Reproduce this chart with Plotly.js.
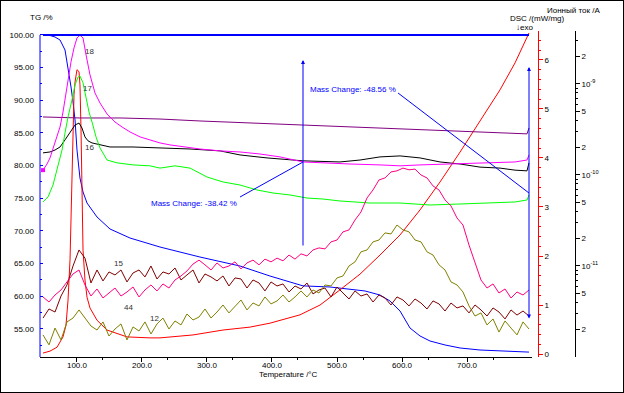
<!DOCTYPE html>
<html>
<head>
<meta charset="utf-8">
<script src="https://cdn.plot.ly/plotly-3.0.1.min.js"></script>
<style>
html,body{margin:0;padding:0;background:#fff;}
#chart{position:absolute;left:0;top:0;width:624px;height:393px;}
#frame{position:absolute;left:0;top:0;width:624px;height:393px;box-sizing:border-box;border:1px solid #000;pointer-events:none;}
</style>
</head>
<body>
<div id="chart"></div>
<div id="frame"></div>
<script>
// ---------- TG (mass, %) ----------
const T_TG = [47.7, 58.5, 66.2, 73.9, 81.6, 86.2, 90.8, 93.9, 97.0, 100.0, 104.6, 109.3, 115.4, 130.8, 150.8, 181.6, 227.7, 289.2, 350.8, 396.9, 447.7, 489.2, 520.0, 543.1, 566.2, 581.6, 597.0, 612.3, 627.7, 643.1, 666.2, 689.3, 720.0, 750.8, 795.4];
const TG = [100.0, 99.92, 99.69, 99.23, 97.70, 95.10, 92.04, 89.74, 86.98, 82.39, 78.10, 75.96, 74.27, 72.13, 70.29, 68.91, 67.53, 66.00, 64.62, 63.09, 61.58, 61.41, 61.10, 60.80, 60.18, 59.26, 57.73, 55.13, 53.91, 53.14, 52.53, 52.07, 51.76, 51.61, 51.44];

// ---------- DSC (mW/mg) ----------
const T_DSC = [47.7, 58.5, 69.3, 78.5, 83.1, 86.2, 89.3, 90.8, 92.3, 93.9, 95.4, 97.0, 100.0, 103.1, 104.6, 106.2, 107.7, 109.3, 112.3, 115.4, 120.0, 130.8, 146.2, 176.9, 212.3, 227.7, 278.5, 324.6, 366.2, 396.9, 443.1, 473.9, 504.6, 535.4, 566.2, 597.0, 627.7, 658.5, 689.3, 720.0, 750.8, 773.9, 795.4];
const DSC = [0.02, 0.06, 0.14, 0.35, 0.59, 1.10, 1.92, 2.73, 3.96, 4.78, 5.29, 5.55, 5.80, 5.76, 5.49, 4.57, 3.14, 2.12, 1.51, 1.16, 0.94, 0.69, 0.49, 0.35, 0.33, 0.33, 0.39, 0.49, 0.55, 0.63, 0.80, 1.00, 1.31, 1.63, 2.02, 2.43, 2.94, 3.51, 4.12, 4.76, 5.39, 5.94, 6.55];

// ---------- MS ion currents (A) ----------
const T18 = [47.7, 53.9, 58.5, 66.2, 73.9, 78.5, 83.1, 86.2, 90.8, 95.4, 100.0, 104.6, 109.3, 114.0, 120.0, 127.7, 135.4, 146.2, 158.5, 169.3, 181.6, 197.0, 212.3, 227.7, 243.1, 266.2, 289.2, 320.0, 350.8, 381.6, 412.3, 447.7, 473.9, 520.0, 566.2, 597.0, 627.7, 673.9, 720.0, 750.8, 773.9, 792.3, 795.4];
const I18 = [1.13e-10, 1.32e-10, 1.54e-10, 2.25e-10, 3.37e-10, 4.92e-10, 8.17e-10, 1.16e-9, 1.75e-9, 2.49e-9, 3.20e-9, 3.45e-9, 3.20e-9, 2.08e-9, 1.26e-9, 7.96e-10, 6.18e-10, 4.68e-10, 3.82e-10, 3.37e-10, 2.97e-10, 2.62e-10, 2.43e-10, 2.25e-10, 2.14e-10, 2.03e-10, 1.93e-10, 1.84e-10, 1.79e-10, 1.70e-10, 1.58e-10, 1.39e-10, 1.36e-10, 1.32e-10, 1.29e-10, 1.26e-10, 1.29e-10, 1.32e-10, 1.36e-10, 1.39e-10, 1.39e-10, 1.46e-10, 1.66e-10];

const T17 = [47.7, 55.4, 63.1, 70.8, 77.0, 81.6, 86.2, 92.3, 97.0, 101.6, 104.6, 109.3, 114.0, 118.5, 123.1, 129.3, 135.4, 146.2, 161.6, 186.2, 212.3, 227.7, 250.8, 273.9, 300.0, 324.6, 350.8, 377.0, 401.6, 427.7, 453.9, 478.5, 504.6, 550.8, 597.0, 643.1, 689.3, 735.4, 773.9, 792.3, 795.4];
const I17 = [5.05e-11, 5.73e-11, 7.76e-11, 1.22e-10, 1.88e-10, 2.90e-10, 4.34e-10, 6.67e-10, 9.75e-10, 1.19e-9, 1.22e-9, 1.03e-9, 7.20e-10, 4.92e-10, 3.82e-10, 2.62e-10, 1.98e-10, 1.46e-10, 1.36e-10, 1.29e-10, 1.26e-10, 1.19e-10, 1.26e-10, 1.19e-10, 9.50e-11, 8.38e-11, 7.76e-11, 6.84e-11, 6.34e-11, 6.03e-11, 5.58e-11, 5.44e-11, 5.18e-11, 4.92e-11, 4.92e-11, 4.68e-11, 4.80e-11, 4.92e-11, 5.05e-11, 5.31e-11, 6.03e-11];

const T16 = [47.7, 58.5, 66.2, 73.9, 81.6, 89.3, 97.0, 103.1, 107.7, 112.3, 117.0, 123.1, 135.4, 150.8, 186.2, 227.7, 273.9, 320.0, 350.8, 392.3, 447.7, 504.6, 535.4, 566.2, 597.0, 627.7, 658.5, 689.3, 720.0, 750.8, 773.9, 792.3, 795.4];
const I16 = [1.75e-10, 1.79e-10, 1.88e-10, 2.03e-10, 2.43e-10, 2.90e-10, 3.54e-10, 3.72e-10, 3.28e-10, 2.62e-10, 2.37e-10, 2.25e-10, 2.14e-10, 2.03e-10, 2.03e-10, 1.98e-10, 1.93e-10, 1.84e-10, 1.66e-10, 1.54e-10, 1.43e-10, 1.39e-10, 1.46e-10, 1.58e-10, 1.62e-10, 1.54e-10, 1.39e-10, 1.32e-10, 1.22e-10, 1.19e-10, 1.13e-10, 1.11e-10, 1.36e-10];

const T_P = [47.7, 104.6, 166.2, 227.7, 289.2, 366.2, 443.1, 520.0, 597.0, 673.9, 750.8, 792.3, 795.4];
const I_P = [4.34e-10, 4.23e-10, 4.23e-10, 4.12e-10, 3.92e-10, 3.72e-10, 3.54e-10, 3.37e-10, 3.20e-10, 3.05e-10, 2.90e-10, 2.83e-10, 3.28e-10];

const TN = [47.7, 56.9, 66.2, 75.4, 84.6, 93.9, 103.1, 112.3, 121.5, 130.8,
  140.0, 149.2, 158.5, 167.7, 176.9, 186.2, 195.4, 204.6, 213.8, 223.1,
  232.3, 241.5, 250.8, 260.0, 269.2, 278.5, 287.7, 296.9, 306.2, 315.4,
  324.6, 333.8, 343.1, 352.3, 361.5, 370.8, 380.0, 389.2, 398.5, 407.7,
  416.9, 426.2, 435.4, 444.6, 453.8, 463.1, 472.3, 481.5, 490.8, 500.0,
  509.2, 518.5, 527.7, 536.9, 546.2, 555.4, 564.6, 573.8, 583.1, 592.3,
  601.5, 610.8, 620.0, 629.2, 638.5, 647.7, 656.9, 666.2, 675.4, 684.6,
  693.8, 703.1, 712.3, 721.5, 730.8, 740.0, 749.2, 758.5, 767.7, 776.9,
  786.2, 795.4];
const I15 = [2.68e-12, 3.37e-12, 3.12e-12, 4.68e-12, 6.19e-12, 1.00e-11, 1.50e-11, 1.22e-11, 6.51e-12, 9.04e-12,
  6.85e-12, 8.60e-12, 7.97e-12, 9.04e-12, 6.68e-12, 8.38e-12, 9.04e-12, 7.58e-12, 1.00e-11, 7.20e-12,
  8.60e-12, 8.17e-12, 9.51e-12, 7.02e-12, 7.97e-12, 9.04e-12, 6.51e-12, 8.17e-12, 7.58e-12, 6.85e-12,
  7.77e-12, 6.03e-12, 7.39e-12, 7.20e-12, 5.73e-12, 7.02e-12, 6.51e-12, 5.32e-12, 6.68e-12, 6.03e-12,
  6.35e-12, 5.18e-12, 6.03e-12, 5.59e-12, 6.51e-12, 4.93e-12, 5.45e-12, 5.73e-12, 4.57e-12, 5.88e-12,
  5.05e-12, 4.34e-12, 5.32e-12, 4.68e-12, 4.93e-12, 4.02e-12, 4.80e-12, 4.45e-12, 3.73e-12, 4.57e-12,
  4.23e-12, 3.64e-12, 4.34e-12, 3.92e-12, 3.37e-12, 4.13e-12, 3.83e-12, 3.20e-12, 3.92e-12, 3.46e-12,
  3.64e-12, 3.05e-12, 3.73e-12, 3.29e-12, 2.82e-12, 3.46e-12, 3.12e-12, 2.62e-12, 3.29e-12, 2.89e-12,
  3.20e-12, 2.82e-12];
const I44 = [4.57e-12, 4.02e-12, 4.80e-12, 5.45e-12, 6.68e-12, 8.17e-12, 9.04e-12, 6.19e-12, 4.68e-12, 5.59e-12,
  4.45e-12, 5.05e-12, 5.73e-12, 4.68e-12, 5.18e-12, 5.88e-12, 4.57e-12, 5.45e-12, 6.19e-12, 5.32e-12,
  6.35e-12, 5.73e-12, 7.02e-12, 7.77e-12, 8.82e-12, 1.05e-11, 1.16e-11, 1.03e-11, 9.04e-12, 1.08e-11,
  9.51e-12, 1.00e-11, 1.11e-11, 9.28e-12, 1.08e-11, 1.16e-11, 1.03e-11, 1.19e-11, 1.11e-11, 1.22e-11,
  1.14e-11, 1.32e-11, 1.19e-11, 1.36e-11, 1.29e-11, 1.50e-11, 1.58e-11, 1.54e-11, 1.84e-11, 1.93e-11,
  2.37e-11, 2.49e-11, 3.20e-11, 3.92e-11, 5.59e-11, 6.85e-11, 8.82e-11, 9.28e-11, 1.08e-10, 1.11e-10,
  1.19e-10, 1.14e-10, 1.16e-10, 1.00e-10, 9.28e-11, 7.58e-11, 6.85e-11, 5.32e-11, 4.57e-11, 3.37e-11,
  2.82e-11, 1.70e-11, 1.11e-11, 7.02e-12, 5.73e-12, 6.35e-12, 5.05e-12, 5.59e-12, 4.45e-12, 5.18e-12,
  4.80e-12, 5.45e-12];
const I12 = [1.75e-12, 1.36e-12, 2.08e-12, 1.54e-12, 2.43e-12, 2.68e-12, 3.29e-12, 2.68e-12, 2.19e-12, 1.98e-12,
  2.43e-12, 1.70e-12, 2.03e-12, 2.31e-12, 1.54e-12, 2.14e-12, 1.93e-12, 2.43e-12, 1.79e-12, 2.31e-12,
  2.68e-12, 2.03e-12, 2.49e-12, 2.25e-12, 2.97e-12, 2.55e-12, 2.75e-12, 3.37e-12, 2.68e-12, 3.12e-12,
  3.73e-12, 3.05e-12, 3.55e-12, 4.23e-12, 3.29e-12, 3.92e-12, 3.64e-12, 4.57e-12, 3.83e-12, 4.13e-12,
  4.80e-12, 4.02e-12, 4.57e-12, 5.32e-12, 4.57e-12, 5.45e-12, 5.05e-12, 6.19e-12, 6.03e-12, 7.39e-12,
  7.77e-12, 1.00e-11, 1.11e-11, 1.43e-11, 1.50e-11, 1.84e-11, 1.93e-11, 2.31e-11, 2.25e-11, 2.82e-11,
  2.49e-11, 2.37e-11, 1.93e-11, 1.84e-11, 1.43e-11, 1.32e-11, 1.03e-11, 9.04e-12, 6.68e-12, 6.19e-12,
  5.18e-12, 3.64e-12, 2.82e-12, 3.05e-12, 2.25e-12, 2.62e-12, 1.88e-12, 2.49e-12, 2.08e-12, 1.75e-12,
  2.43e-12, 2.03e-12];

// ---------- labels & ticks ----------
const massChange1 = -38.42, massChange2 = -48.56;
const stepT1 = 447.7, stepT2 = 795.4;
const xTickVals = [100, 200, 300, 400, 500, 600, 700];
const xMinorVals = [140, 240, 340, 440, 540, 640, 740];
const tgTickVals = [55, 60, 65, 70, 75, 80, 85, 90, 95, 100];
const tgMinorVals = [52.5, 57.5, 62.5, 67.5, 72.5, 77.5, 82.5, 87.5, 92.5, 97.5];
const ionTickVals = [2e-12, 5e-12, 1e-11, 2e-11, 5e-11, 1e-10, 2e-10, 5e-10, 1e-9, 2e-9];
const ionTickText = ['2', '5', '10<sup>-11</sup>', '2', '5', '10<sup>-10</sup>', '2', '5', '10<sup>-9</sup>', '2'];
const ionMinorVals = [3e-12,4e-12,6e-12,7e-12,8e-12,9e-12,3e-11,4e-11,6e-11,7e-11,8e-11,9e-11,3e-10,4e-10,6e-10,7e-10,8e-10,9e-10,3e-9];
const curveNames = ['18', '17', '16', '15', '44', '12'];

const F = 'Liberation Sans, Arial, sans-serif';
function ms(x, y, color, name) {
  return {x: x, y: y, type: 'scatter', mode: 'lines', yaxis: 'y3', name: name,
    line: {color: color, width: 1}, hoverinfo: 'skip'};
}
const traces = [
  ms(T_P, I_P, '#800080', 'p'),
  ms(T16, I16, '#000000', '16'),
  ms(T18, I18, '#ff00ff', '18'),
  ms(T17, I17, '#00ff00', '17'),
  ms(TN, I15, '#800000', '15'),
  ms(TN, I44, '#ff0080', '44'),
  ms(TN, I12, '#808000', '12'),
  {x: [T18[0]], y: [I18[0]], type: 'scatter', mode: 'markers', yaxis: 'y3',
   marker: {symbol: 'square', size: 4, color: '#ff00ff'}, hoverinfo: 'skip'},
  {x: T_DSC, y: DSC, type: 'scatter', mode: 'lines', yaxis: 'y2', line: {color: '#ff0000', width: 1}, hoverinfo: 'skip'},
  {x: T_TG, y: TG, type: 'scatter', mode: 'lines', yaxis: 'y', line: {color: '#0000ff', width: 1}, hoverinfo: 'skip'}
];

function pan(x, y, text, opts) {
  return Object.assign({xref: 'paper', yref: 'paper', x: x, y: y, text: text, showarrow: false,
    font: {family: F, size: 8, color: '#000'}, xanchor: 'center', yanchor: 'middle'}, opts || {});
}
function dan(x, y, text, color, size, xanchor) {
  return {xref: 'x', yref: 'y', x: x, y: y, text: text, showarrow: false,
    font: {family: F, size: size, color: color}, xanchor: xanchor || 'center', yanchor: 'middle'};
}

const annotations = [
  pan(0.0019, 1.0414, 'TG /%'),
  pan(0.929, 1.0383, 'DSC /(mW/mg)'),
  pan(0.9047, 1.0107, '↓exo'),
  pan(0.998, 1.0629, 'Ионный ток /A'),
  pan(0.4654, -0.054, 'Temperature /°C'),
  dan(349.2, 74.27, 'Mass Change: ' + massChange1.toFixed(2) + ' %', '#0000ff', 8, 'right'),
  dan(593.9, 91.58, 'Mass Change: ' + massChange2.toFixed(2) + ' %', '#0000ff', 8, 'right'),
  dan(118.5, 97.4, curveNames[0], '#333', 8),
  dan(115.4, 91.88, curveNames[1], '#333', 8),
  dan(118.5, 82.7, curveNames[2], '#333', 8),
  dan(163.1, 65.08, curveNames[3], '#333', 8),
  dan(178.6, 58.2, curveNames[4], '#333', 8),
  dan(220.0, 56.66, curveNames[5], '#333', 8),
  dan(801, 85.76, '[1]', '#c080c0', 5),
  dan(801, 81.93, '[1]', '#ff80ff', 5),
  dan(801, 80.40, '[1]', '#909090', 5),
  dan(801, 75.50, '[1]', '#80e080', 5),
  dan(801, 61.72, '[1]', '#ff80c0', 5),
  dan(801, 57.58, '[1]', '#c08080', 5),
  dan(801, 54.82, '[1]', '#b0b070', 5),
  dan(801, 52.99, '[1]', '#8080ff', 5),
  {xref: 'x', yref: 'y', axref: 'x', ayref: 'y', x: stepT1, y: 96.17, ax: stepT1, ay: 67.53,
   text: '', showarrow: true, arrowhead: 2, arrowsize: 0.8, arrowwidth: 1, arrowcolor: '#0000ff'},
  {xref: 'x', yref: 'y', axref: 'x', ayref: 'y', x: stepT2, y: 95.1, ax: stepT2, ay: 56.36,
   text: '', showarrow: true, arrowhead: 2, arrowside: 'end+start', arrowsize: 0.8, arrowwidth: 1, arrowcolor: '#0000ff'}
];

const shapes = [
  {type: 'line', xref: 'paper', yref: 'y', x0: 0, x1: 0, y0: 50.69, y1: 100, line: {color: '#0000ff', width: 1}},
  {type: 'line', xref: 'x', yref: 'y', x0: T_TG[0], x1: T_TG[T_TG.length - 1], y0: 100, y1: 100, line: {color: '#0000ff', width: 2}},
  {type: 'line', xref: 'x', yref: 'y', x0: 350.8, y0: 75.19, x1: stepT1, y1: 80.55, line: {color: '#0000ff', width: 1}},
  {type: 'line', xref: 'x', yref: 'y', x0: 593.9, y0: 91.12, x1: stepT2, y1: 75.8, line: {color: '#0000ff', width: 1}}
];

const layout = {
  width: 624, height: 393,
  margin: {l: 40, r: 49, t: 31, b: 36, pad: 0},
  paper_bgcolor: '#fff', plot_bgcolor: '#fff',
  showlegend: false,
  font: {family: F, size: 8, color: '#000'},
  xaxis: {
    domain: [0, 0.91963], range: [43.1, 800], anchor: 'y',
    showgrid: false, zeroline: false, showline: true, linecolor: '#000', linewidth: 1,
    tickmode: 'array', tickvals: xTickVals, ticktext: xTickVals.map(v => v.toFixed(1)),
    ticks: 'outside', ticklen: 4, tickcolor: '#000', ticklabelstandoff: -4,
    tickfont: {family: F, size: 8, color: '#000'},
    minor: {tickmode: 'array', tickvals: xMinorVals, ticks: 'outside', ticklen: 2, tickcolor: '#000'}
  },
  yaxis: {
    range: [50.69, 100.61], showgrid: false, zeroline: false, showline: false,
    tickmode: 'array', tickvals: tgTickVals, ticktext: tgTickVals.map(v => v.toFixed(2)),
    ticks: 'inside', ticklen: 3, tickcolor: '#0000ff', ticklabelstandoff: 5,
    tickfont: {family: F, size: 8, color: '#000'},
    minor: {tickmode: 'array', tickvals: tgMinorVals, ticks: 'inside', ticklen: 2, tickcolor: '#0000ff'}
  },
  yaxis2: {
    overlaying: 'y', side: 'right', anchor: 'free', position: 0.9308,
    range: [-0.06, 6.59], showgrid: false, zeroline: false,
    showline: true, linecolor: '#ff0000', linewidth: 1,
    tickmode: 'linear', tick0: 0, dtick: 1, ticks: 'outside', ticklen: 4, tickcolor: '#ff0000',
    tickfont: {family: F, size: 8, color: '#000'},
    minor: {tick0: 0, dtick: 0.2, ticks: 'outside', ticklen: 2, tickcolor: '#ff0000'}
  },
  yaxis3: {
    overlaying: 'y', side: 'right', anchor: 'free', position: 1,
    type: 'log', range: [-12.0, -8.418], showgrid: false, zeroline: false,
    showline: true, linecolor: '#000', linewidth: 1,
    tickmode: 'array', tickvals: ionTickVals, ticktext: ionTickText,
    ticks: 'outside', ticklen: 4, tickcolor: '#000',
    tickfont: {family: F, size: 8, color: '#000'},
    minor: {tickmode: 'array', tickvals: ionMinorVals, ticks: 'outside', ticklen: 2, tickcolor: '#000'}
  },
  annotations: annotations,
  shapes: shapes
};

Plotly.newPlot('chart', traces, layout, {displayModeBar: false, staticPlot: true});
</script>
</body>
</html>
